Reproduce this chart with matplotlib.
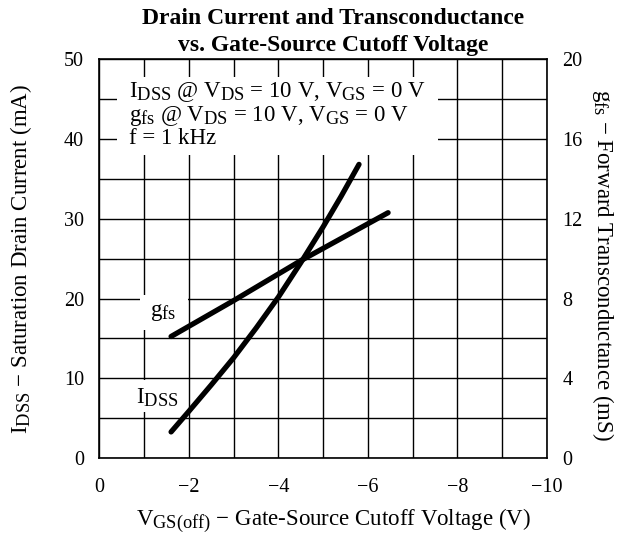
import matplotlib.pyplot as plt
import matplotlib._mathtext as mathtext_internal
from matplotlib.patches import Rectangle

plt.rcParams['font.family'] = 'Liberation Serif'
plt.rcParams['mathtext.fontset'] = 'custom'
plt.rcParams['mathtext.rm'] = 'Liberation Serif'
plt.rcParams['mathtext.it'] = 'Liberation Serif:italic'
plt.rcParams['mathtext.bf'] = 'Liberation Serif:bold'
# wieksze indeksy dolne, jak w oryginale
mathtext_internal.SHRINK_FACTOR = 0.8

# Dane
idss_vgs = [-1.6, -2.0, -2.5, -3.0, -3.5, -4.0, -4.5, -5.0, -5.4, -5.8]
idss_ma = [3.3, 5.9, 9.2, 12.6, 16.3, 20.2, 24.5, 29.0, 32.8, 36.8]

gfs_vgs = [-1.6, -3.0, -4.5, -6.45]
gfs_ms = [6.1, 7.9, 9.9, 12.3]

left_ticks = [0, 10, 20, 30, 40, 50]
right_ticks = [0, 4, 8, 12, 16, 20]
x_ticks = [0, -2, -4, -6, -8, -10]

FS = 16.5
TICK_FS = 14.5

fig = plt.figure(figsize=(6.18, 5.37), dpi=100)
ax = fig.add_axes([0.161, 0.1466, 0.724, 0.7436])

ax.set_xlim(0, -10)
ax.set_ylim(0, 50)
ax.set_xticks(x_ticks)
ax.set_xticklabels(['0' if v == 0 else '\u2212%d' % abs(v) for v in x_ticks])
ax.set_xticks(range(0, -11, -1), minor=True)
ax.set_yticks(left_ticks)
ax.set_yticks(range(0, 51, 5), minor=True)
ax.grid(True, which='both', color='black', linewidth=1.0, zorder=1)
ax.tick_params(which='both', length=0, labelsize=TICK_FS)
ax.tick_params(axis='x', pad=14)
ax.tick_params(axis='y', pad=11)
for s in ax.spines.values():
    s.set_linewidth(1.2)
    s.set_zorder(5)

# Biale tla pod opisami
for (x0, y0, w, h) in [(0.039, 0.76, 0.717, 0.195),
                       (0.0905, 0.322, 0.1075, 0.087),
                       (0.075, 0.116, 0.105, 0.08)]:
    ax.add_patch(Rectangle((x0, y0), w, h, transform=ax.transAxes,
                           facecolor='white', edgecolor='none', zorder=2))

ax.plot(idss_vgs, idss_ma, color='black', linewidth=3.8,
        solid_capstyle='round', solid_joinstyle='round', zorder=4)
# gfs na skali prawej (20 mS = 50 mA)
ax.plot(gfs_vgs, [g * 2.5 for g in gfs_ms], color='black', linewidth=3.8,
        solid_capstyle='round', solid_joinstyle='round', zorder=4)

ax.text(0.066, 0.917, r'I$_{\mathrm{DSS}}$ @ V$_{\mathrm{DS}}$ = 10 V, V$_{\mathrm{GS}}$ = 0 V',
        transform=ax.transAxes, fontsize=FS, va='center', ha='left', zorder=3)
ax.text(0.066, 0.857, r'g$_{\mathrm{fs}}$ @ V$_{\mathrm{DS}}$ = 10 V, V$_{\mathrm{GS}}$ = 0 V',
        transform=ax.transAxes, fontsize=FS, va='center', ha='left', zorder=3)
ax.text(0.066, 0.802, 'f = 1 kHz',
        transform=ax.transAxes, fontsize=FS, va='center', ha='left', zorder=3)
ax.text(0.142, 0.364, r'g$_{\mathrm{fs}}$', transform=ax.transAxes,
        fontsize=FS, va='center', ha='center', zorder=3)
ax.text(0.128, 0.151, r'I$_{\mathrm{DSS}}$', transform=ax.transAxes,
        fontsize=FS, va='center', ha='center', zorder=3)

ax.set_xlabel(r'V$_{\mathrm{GS(off)}}$ $-$ Gate-Source Cutoff Voltage (V)', fontsize=FS)
ax.xaxis.set_label_coords(0.524, -0.122)
ax.set_ylabel(r'I$_{\mathrm{DSS}}$ $-$ Saturation Drain Current (mA)', fontsize=FS)
ax.yaxis.set_label_coords(-0.146, 0.498)

ax2 = ax.twinx()
ax2.set_ylim(0, 20)
ax2.set_yticks(right_ticks)
ax2.tick_params(length=0, labelsize=TICK_FS, pad=11)
for s in ax2.spines.values():
    s.set_visible(False)
ax2.set_ylabel(r'g$_{\mathrm{fs}}$ $-$ Forward Transconductance (mS)',
               fontsize=FS, rotation=270, va='center')
ax2.yaxis.set_label_coords(1.125, 0.484)

fig.text(0.539, 0.985, 'Drain Current and Transconductance\nvs. Gate-Source Cutoff Voltage',
         fontsize=17, fontweight='bold', ha='center', va='top', linespacing=1.4)

fig.savefig('out.png', dpi=100)
